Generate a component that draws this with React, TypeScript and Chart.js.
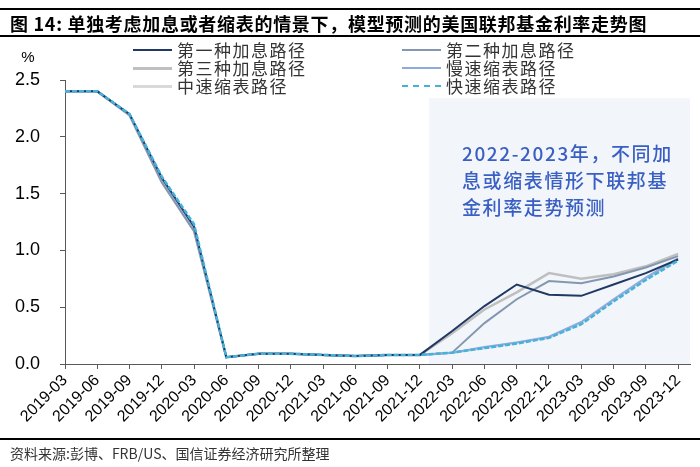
import React, { useEffect, useRef } from "react";
import { Chart, registerables } from "chart.js";

Chart.register(...registerables);

const TITLE = "图 14: 单独考虑加息或者缩表的情景下，模型预测的美国联邦基金利率走势图";
const SOURCE = "资料来源:彭博、FRB/US、国信证券经济研究所整理";
const Y_UNIT = "%";
const NOTE_LINES = ["2022-2023年，不同加", "息或缩表情形下联邦基", "金利率走势预测"];

const categories = [
  "2019-03", "2019-06", "2019-09", "2019-12", "2020-03", "2020-06", "2020-09", "2020-12",
  "2021-03", "2021-06", "2021-09", "2021-12", "2022-03", "2022-06", "2022-09", "2022-12",
  "2023-03", "2023-06", "2023-09", "2023-12",
];

const hike1 = [2.4, 2.4, 2.2, 1.64, 1.21, 0.06, 0.09, 0.09, 0.08, 0.07, 0.08, 0.08, 0.29, 0.51, 0.7, 0.61, 0.6, 0.7, 0.8, 0.92];
const hike2 = [2.4, 2.4, 2.19, 1.6, 1.17, 0.06, 0.09, 0.09, 0.08, 0.07, 0.08, 0.08, 0.1, 0.36, 0.57, 0.73, 0.71, 0.77, 0.85, 0.95];
const hike3 = [2.4, 2.4, 2.19, 1.6, 1.17, 0.06, 0.09, 0.09, 0.08, 0.07, 0.08, 0.08, 0.27, 0.48, 0.63, 0.8, 0.75, 0.79, 0.86, 0.97];
const qtSlow = [2.4, 2.4, 2.2, 1.63, 1.2, 0.06, 0.09, 0.09, 0.08, 0.07, 0.08, 0.08, 0.1, 0.15, 0.19, 0.24, 0.37, 0.57, 0.76, 0.93];
const qtMid = [2.4, 2.4, 2.19, 1.62, 1.19, 0.06, 0.09, 0.09, 0.08, 0.07, 0.08, 0.08, 0.1, 0.14, 0.19, 0.23, 0.36, 0.56, 0.75, 0.92];
const qtFast = [2.4, 2.4, 2.2, 1.65, 1.23, 0.06, 0.09, 0.09, 0.08, 0.07, 0.08, 0.08, 0.1, 0.14, 0.18, 0.23, 0.35, 0.55, 0.74, 0.91];

const seriesNames = ["第一种加息路径", "第二种加息路径", "第三种加息路径", "慢速缩表路径", "中速缩表路径", "快速缩表路径"];
const seriesData = [hike1, hike2, hike3, qtSlow, qtMid, qtFast];
const seriesColors = ["#1F3864", "#8497B0", "#BFBFBF", "#8FAADC", "#D9D9D9", "#45B2DA"];
const seriesWidths = [2, 2, 2.5, 2, 2.5, 2.5];
const seriesDash: number[][] = [[], [], [], [], [], [5, 2]];

const Y_MIN = 0;
const Y_MAX = 2.5;
const Y_STEP = 0.5;
const X_MAX = 19.37;
const SHADE_FROM = 11.28;
const SHADE_TOP = 2.34;
const SHADE_COLOR = "#F2F6FA";

const shadePlugin = {
  id: "shade",
  beforeDatasetsDraw(chart: any) {
    const { ctx, chartArea, scales } = chart;
    const x0 = scales.x.getPixelForValue(SHADE_FROM);
    const y0 = scales.y.getPixelForValue(SHADE_TOP);
    ctx.save();
    ctx.fillStyle = SHADE_COLOR;
    ctx.fillRect(x0, y0, chartArea.right - x0, chartArea.bottom - y0);
    ctx.restore();
  },
};

export default function App() {
  const ref = useRef<HTMLCanvasElement>(null);

  useEffect(() => {
    if (!ref.current) return;
    // Chart.js paints the first dataset last (on top)
    const order = [5, 0, 3, 1, 4, 2];
    const chart = new Chart(ref.current, {
      type: "line",
      data: {
        datasets: order.map((i) => ({
          label: seriesNames[i],
          data: seriesData[i].map((v, k) => ({ x: k, y: v })),
          borderColor: seriesColors[i],
          backgroundColor: seriesColors[i],
          borderWidth: seriesWidths[i],
          borderDash: seriesDash[i],
          pointRadius: 0,
          tension: 0,
          fill: false,
        })),
      },
      options: {
        animation: false,
        responsive: false,
        maintainAspectRatio: false,
        layout: { padding: { left: 0, top: 80, right: 10, bottom: 0 } },
        plugins: { legend: { display: false }, tooltip: { enabled: false }, title: { display: false } },
        scales: {
          x: {
            type: "linear",
            min: 0,
            max: X_MAX,
            afterFit: (s: any) => { s.height = 103; },
            border: { display: true, color: "#595959", width: 1 },
            grid: { drawOnChartArea: false, drawTicks: true, tickLength: 5, color: "#595959" },
            ticks: {
              stepSize: 1,
              autoSkip: false,
              includeBounds: false,
              maxTicksLimit: 40,
              minRotation: 45,
              maxRotation: 45,
              padding: 2,
              color: "#000",
              font: { family: "'Liberation Sans', Arial, sans-serif", size: 16 },
              callback: (v: any) => categories[Math.round(Number(v))] ?? "",
            },
          },
          y: {
            min: Y_MIN,
            max: Y_MAX,
            afterFit: (s: any) => { s.width = 65; },
            border: { display: true, color: "#595959", width: 1 },
            grid: { drawOnChartArea: false, drawTicks: true, tickLength: 5, color: "#595959" },
            ticks: {
              stepSize: Y_STEP,
              padding: 20,
              color: "#000",
              font: { family: "'Liberation Sans', Arial, sans-serif", size: 18 },
              callback: (v: any) => Number(v).toFixed(1),
            },
          },
        },
      },
      plugins: [shadePlugin],
    });
    return () => chart.destroy();
  }, []);

  const legendPos = [
    { x: 133, y: 50 }, { x: 402, y: 50 },
    { x: 133, y: 68 }, { x: 402, y: 68 },
    { x: 133, y: 86 }, { x: 402, y: 86 },
  ];

  const cjk = "'Noto Sans CJK SC', 'Noto Sans', sans-serif";

  return (
    <div style={{ position: "absolute", left: 0, top: 0, width: 700, height: 467, background: "#fff", overflow: "hidden" }}>
      <canvas ref={ref} width={700} height={467} style={{ position: "absolute", left: 0, top: 0, width: 700, height: 467 }} />
      <div style={{ position: "absolute", left: 0, top: 8, width: 700, height: 2, background: "#000" }} />
      <div style={{ position: "absolute", left: 10, top: 12, height: 22, lineHeight: "22px", fontFamily: cjk, fontWeight: 700, fontSize: 18, letterSpacing: 0.7, color: "#000", whiteSpace: "nowrap" }}>
        {TITLE}
      </div>
      <div style={{ position: "absolute", left: 0, top: 35, width: 700, height: 2, background: "#000" }} />
      <div style={{ position: "absolute", left: 20, top: 48, width: 16, textAlign: "center", lineHeight: "18px", fontFamily: "'Liberation Sans', Arial, sans-serif", fontSize: 15, color: "#000" }}>
        {Y_UNIT}
      </div>
      {seriesNames.map((name, i) => (
        <div key={name} style={{ position: "absolute", left: legendPos[i].x, top: legendPos[i].y - 10, height: 20, display: "flex", alignItems: "center", whiteSpace: "nowrap" }}>
          <div style={{ width: 39, height: 0, borderTop: `${seriesDash[i].length ? 2 : seriesWidths[i] + 0.5}px ${seriesDash[i].length ? "dashed" : "solid"} ${seriesColors[i]}` }} />
          <span style={{ marginLeft: 5, fontFamily: cjk, fontSize: 17, letterSpacing: 1.5, color: "#333", lineHeight: "20px" }}>{name}</span>
        </div>
      ))}
      {NOTE_LINES.map((t, i) => (
        <div key={t} style={{ position: "absolute", left: 462, top: 139 + i * 27, lineHeight: "27px", fontFamily: cjk, fontWeight: 500, fontSize: 19, letterSpacing: 1.6, color: "#3A5FC4", whiteSpace: "nowrap" }}>
          {t}
        </div>
      ))}
      <div style={{ position: "absolute", left: 0, top: 438, width: 700, height: 2, background: "#000" }} />
      <div style={{ position: "absolute", left: 10, top: 444, lineHeight: "18px", fontFamily: cjk, fontSize: 14, color: "#333", whiteSpace: "nowrap" }}>
        {SOURCE}
      </div>
    </div>
  );
}
